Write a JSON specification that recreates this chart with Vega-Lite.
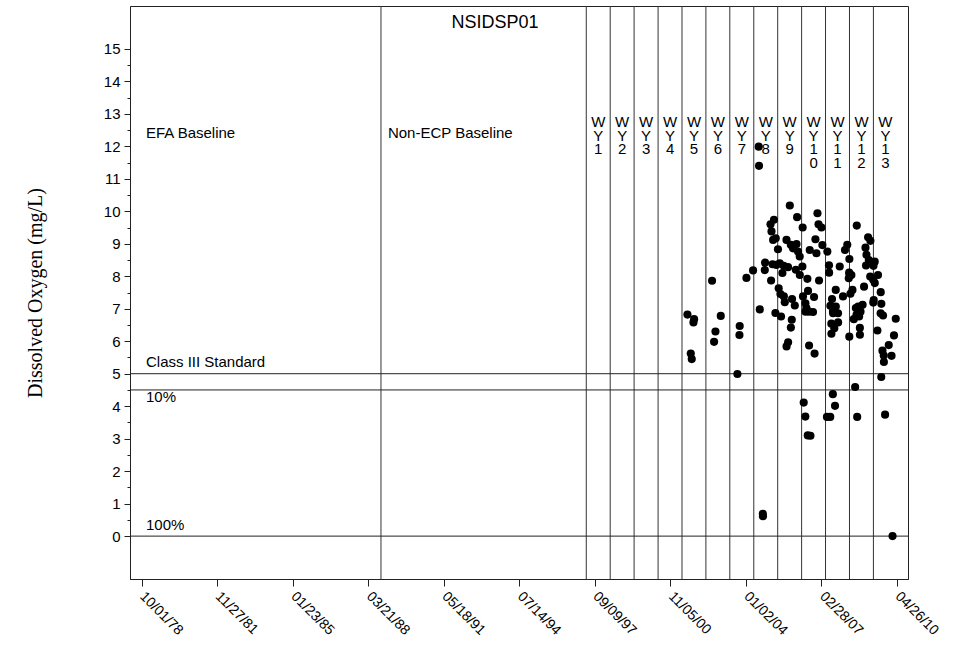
{
  "$schema": "https://vega.github.io/schema/vega-lite/v6.json",
  "width": 778,
  "height": 573,
  "autosize": {"type": "none"},
  "padding": {"left": 130, "top": 6, "right": 58, "bottom": 77},
  "background": "white",
  "config": {
    "view": {"stroke": "#222", "strokeWidth": 1},
    "font": "Liberation Sans",
    "axis": {"domainColor": "#222", "tickColor": "#222", "labelColor": "black", "titleColor": "black", "grid": false, "labelFont": "Liberation Sans"}
  },
  "datasets": {
    "periods": [
      {"date": "1988-10-01"},
      {"date": "1997-05-01"}, {"date": "1998-05-01"}, {"date": "1999-05-01"}, {"date": "2000-05-01"},
      {"date": "2001-05-01"}, {"date": "2002-05-01"}, {"date": "2003-05-01"}, {"date": "2004-05-01"},
      {"date": "2005-05-01"}, {"date": "2006-05-01"}, {"date": "2007-05-01"}, {"date": "2008-05-01"},
      {"date": "2009-05-01"}
    ],
    "levels": [{"level": 5}, {"level": 4.5}, {"level": 0}],
    "notes": [
      {"date": "1978-12-06", "value": 12.41, "label": "EFA Baseline"},
      {"date": "1989-01-15", "value": 12.41, "label": "Non-ECP Baseline"},
      {"date": "1978-12-06", "value": 5.37, "label": "Class III Standard"},
      {"date": "1978-12-06", "value": 4.29, "label": "10%"},
      {"date": "1978-12-06", "value": 0.35, "label": "100%"}
    ],
    "site": [{"date": "1993-07-06", "value": 15.8, "label": "NSIDSP01"}],
    "wateryears": [
      {"date": "1997-10-31", "label": "W\nY\n1"},
      {"date": "1998-10-31", "label": "W\nY\n2"},
      {"date": "1999-10-31", "label": "W\nY\n3"},
      {"date": "2000-10-31", "label": "W\nY\n4"},
      {"date": "2001-10-31", "label": "W\nY\n5"},
      {"date": "2002-10-31", "label": "W\nY\n6"},
      {"date": "2003-10-31", "label": "W\nY\n7"},
      {"date": "2004-10-31", "label": "W\nY\n8"},
      {"date": "2005-10-31", "label": "W\nY\n9"},
      {"date": "2006-10-31", "label": "W\nY\n1\n0"},
      {"date": "2007-10-31", "label": "W\nY\n1\n1"},
      {"date": "2008-10-31", "label": "W\nY\n1\n2"},
      {"date": "2009-10-31", "label": "W\nY\n1\n3"}
    ],
    "samples": [
      {"date": "2001-07-23", "do": 6.82}, {"date": "2001-11-02", "do": 6.68}, {"date": "2001-10-23", "do": 6.58},
      {"date": "2001-09-12", "do": 5.62}, {"date": "2001-09-27", "do": 5.45},
      {"date": "2002-08-03", "do": 7.86}, {"date": "2002-12-14", "do": 6.78}, {"date": "2002-09-24", "do": 6.30},
      {"date": "2002-09-03", "do": 5.98},
      {"date": "2003-09-29", "do": 6.47}, {"date": "2003-09-25", "do": 6.19}, {"date": "2003-08-25", "do": 4.99},
      {"date": "2004-01-10", "do": 7.95}, {"date": "2004-04-20", "do": 8.18}, {"date": "2004-08-01", "do": 6.98},
      {"date": "2004-07-15", "do": 11.99}, {"date": "2004-07-20", "do": 11.40}, {"date": "2004-09-16", "do": 0.69},
      {"date": "2004-09-18", "do": 0.61}, {"date": "2005-01-20", "do": 7.87}, {"date": "2004-10-20", "do": 8.42},
      {"date": "2004-10-16", "do": 8.19}, {"date": "2005-01-11", "do": 9.60}, {"date": "2005-03-05", "do": 9.74},
      {"date": "2005-01-26", "do": 9.38}, {"date": "2005-02-20", "do": 9.12}, {"date": "2005-04-01", "do": 9.17},
      {"date": "2005-05-05", "do": 8.83}, {"date": "2005-02-11", "do": 8.37}, {"date": "2005-03-27", "do": 6.87},
      {"date": "2005-06-21", "do": 6.76},
      {"date": "2005-11-02", "do": 10.18}, {"date": "2006-02-21", "do": 9.82}, {"date": "2005-09-12", "do": 9.12},
      {"date": "2005-11-17", "do": 8.97}, {"date": "2006-02-12", "do": 8.99}, {"date": "2005-12-21", "do": 8.86},
      {"date": "2006-03-07", "do": 8.76}, {"date": "2006-04-02", "do": 8.61}, {"date": "2005-06-01", "do": 8.40},
      {"date": "2005-04-11", "do": 8.35}, {"date": "2005-08-01", "do": 8.32}, {"date": "2005-10-06", "do": 8.28},
      {"date": "2005-07-12", "do": 8.10}, {"date": "2006-02-02", "do": 8.20}, {"date": "2006-04-04", "do": 8.04},
      {"date": "2006-05-13", "do": 8.30}, {"date": "2005-05-16", "do": 7.63}, {"date": "2005-06-12", "do": 7.45},
      {"date": "2005-08-03", "do": 7.38}, {"date": "2005-08-17", "do": 7.20}, {"date": "2005-12-06", "do": 7.30},
      {"date": "2006-01-17", "do": 7.10}, {"date": "2005-12-02", "do": 6.66}, {"date": "2005-11-18", "do": 6.42},
      {"date": "2005-10-07", "do": 5.97}, {"date": "2005-09-13", "do": 5.84},
      {"date": "2006-12-29", "do": 9.94}, {"date": "2007-01-14", "do": 9.60}, {"date": "2007-02-28", "do": 9.50},
      {"date": "2006-05-17", "do": 9.50}, {"date": "2006-11-28", "do": 9.14}, {"date": "2007-03-14", "do": 8.96},
      {"date": "2006-09-02", "do": 8.81}, {"date": "2006-12-13", "do": 8.71}, {"date": "2006-07-28", "do": 7.92},
      {"date": "2007-01-22", "do": 7.87}, {"date": "2006-08-07", "do": 7.55}, {"date": "2006-05-22", "do": 7.38},
      {"date": "2006-11-07", "do": 7.36}, {"date": "2006-06-28", "do": 7.17}, {"date": "2006-07-13", "do": 7.02},
      {"date": "2006-08-22", "do": 6.91}, {"date": "2006-10-22", "do": 6.90}, {"date": "2006-06-30", "do": 6.91},
      {"date": "2006-08-23", "do": 5.87}, {"date": "2006-11-15", "do": 5.62}, {"date": "2006-06-02", "do": 4.11},
      {"date": "2006-06-27", "do": 3.68}, {"date": "2006-08-03", "do": 3.10}, {"date": "2006-09-13", "do": 3.09},
      {"date": "2007-05-29", "do": 8.76}, {"date": "2007-06-23", "do": 8.34}, {"date": "2007-06-25", "do": 8.11},
      {"date": "2007-12-04", "do": 8.30}, {"date": "2007-10-04", "do": 7.58}, {"date": "2008-01-23", "do": 7.38},
      {"date": "2007-08-08", "do": 7.30}, {"date": "2007-07-14", "do": 7.09}, {"date": "2007-10-05", "do": 7.07},
      {"date": "2007-08-23", "do": 6.91}, {"date": "2007-11-08", "do": 6.86}, {"date": "2007-08-25", "do": 6.86},
      {"date": "2007-07-29", "do": 6.54}, {"date": "2007-11-09", "do": 6.58}, {"date": "2007-09-12", "do": 6.40},
      {"date": "2007-07-30", "do": 6.23}, {"date": "2008-04-28", "do": 6.14}, {"date": "2008-03-28", "do": 8.97},
      {"date": "2008-02-22", "do": 8.81}, {"date": "2008-04-29", "do": 8.53}, {"date": "2008-04-26", "do": 8.11},
      {"date": "2008-04-20", "do": 7.94}, {"date": "2007-08-21", "do": 4.37}, {"date": "2007-09-23", "do": 4.01},
      {"date": "2007-05-23", "do": 3.67}, {"date": "2007-07-12", "do": 3.67},
      {"date": "2008-08-20", "do": 9.56}, {"date": "2008-05-02", "do": 8.07}, {"date": "2008-05-30", "do": 8.04},
      {"date": "2008-06-15", "do": 7.58}, {"date": "2008-05-15", "do": 7.46}, {"date": "2008-12-09", "do": 7.68},
      {"date": "2009-02-09", "do": 9.20}, {"date": "2009-03-16", "do": 9.09}, {"date": "2008-12-31", "do": 8.88},
      {"date": "2009-01-15", "do": 8.66}, {"date": "2009-02-20", "do": 8.50}, {"date": "2009-01-08", "do": 8.33},
      {"date": "2008-08-06", "do": 7.02}, {"date": "2008-09-10", "do": 7.07}, {"date": "2008-11-17", "do": 7.12},
      {"date": "2008-10-16", "do": 6.91}, {"date": "2008-08-16", "do": 6.81}, {"date": "2008-07-06", "do": 6.68},
      {"date": "2008-09-25", "do": 6.76}, {"date": "2008-10-06", "do": 6.41}, {"date": "2008-10-07", "do": 6.20},
      {"date": "2008-07-26", "do": 4.59}, {"date": "2008-08-26", "do": 3.67}, {"date": "2009-03-13", "do": 7.99},
      {"date": "2009-04-28", "do": 7.89}, {"date": "2009-04-29", "do": 7.19},
      {"date": "2009-05-21", "do": 8.45}, {"date": "2009-05-02", "do": 8.32}, {"date": "2009-07-10", "do": 8.04},
      {"date": "2009-05-22", "do": 7.79}, {"date": "2009-08-21", "do": 7.51}, {"date": "2009-05-06", "do": 7.27},
      {"date": "2009-08-30", "do": 7.15}, {"date": "2009-08-19", "do": 6.86}, {"date": "2009-09-25", "do": 6.79},
      {"date": "2009-07-01", "do": 6.33}, {"date": "2010-04-07", "do": 6.69}, {"date": "2010-03-11", "do": 6.18},
      {"date": "2009-12-21", "do": 5.88}, {"date": "2009-09-16", "do": 5.71}, {"date": "2009-10-06", "do": 5.56},
      {"date": "2010-02-02", "do": 5.55}, {"date": "2009-10-08", "do": 5.36}, {"date": "2009-08-29", "do": 4.90},
      {"date": "2009-10-26", "do": 3.74}, {"date": "2010-02-17", "do": 0.00}
    ]
  },
  "layer": [
    {
      "data": {"name": "periods"},
      "mark": {"type": "rule", "color": "#333", "strokeWidth": 1},
      "encoding": {
        "x": {"field": "date", "type": "temporal",
              "scale": {"type": "utc", "domain": [{"year": 1978, "month": 4, "date": 6, "utc": true}, {"year": 2010, "month": 10, "date": 11, "utc": true}]}}
      }
    },
    {
      "data": {"name": "levels"},
      "mark": {"type": "rule", "color": "#222", "strokeWidth": 1},
      "encoding": {
        "y": {"field": "level", "type": "quantitative",
              "scale": {"domain": [-1.32, 16.32], "nice": false, "zero": false},
              "axis": {"orient": "left", "values": [0.5, 1.5, 2.5, 3.5, 4.5, 5.5, 6.5, 7.5, 8.5, 9.5, 10.5, 11.5, 12.5, 13.5, 14.5],
                       "labels": false, "domain": false, "ticks": true, "tickSize": 3, "title": null}}
      }
    },
    {
      "data": {"name": "samples"},
      "mark": {"type": "circle", "color": "black", "size": 66, "opacity": 1},
      "encoding": {
        "x": {"field": "date", "type": "temporal",
              "scale": {"type": "utc", "domain": [{"year": 1978, "month": 4, "date": 6, "utc": true}, {"year": 2010, "month": 10, "date": 11, "utc": true}]},
              "axis": {
                "title": null, "format": "%m/%d/%y", "labelAngle": 45, "labelAlign": "left", "labelBaseline": "middle",
                "labelFontSize": 14, "tickSize": 7, "labelPadding": 8, "labelOverlap": false, "labelBound": false,
                "values": [
                  {"year": 1978, "month": 10, "date": 1, "utc": true},
                  {"year": 1981, "month": 11, "date": 27, "utc": true},
                  {"year": 1985, "month": 1, "date": 23, "utc": true},
                  {"year": 1988, "month": 3, "date": 21, "utc": true},
                  {"year": 1991, "month": 5, "date": 18, "utc": true},
                  {"year": 1994, "month": 7, "date": 14, "utc": true},
                  {"year": 1997, "month": 9, "date": 9, "utc": true},
                  {"year": 2000, "month": 11, "date": 5, "utc": true},
                  {"year": 2004, "month": 1, "date": 2, "utc": true},
                  {"year": 2007, "month": 2, "date": 28, "utc": true},
                  {"year": 2010, "month": 4, "date": 26, "utc": true}
                ]
              }},
        "y": {"field": "do", "type": "quantitative",
              "scale": {"domain": [-1.32, 16.32], "nice": false, "zero": false},
              "axis": {"orient": "left", "values": [0, 1, 2, 3, 4, 5, 6, 7, 8, 9, 10, 11, 12, 13, 14, 15],
                       "tickSize": 6, "labelFontSize": 15, "labelPadding": 4,
                       "title": "Dissolved Oxygen (mg/L)", "titleFont": "Liberation Serif", "titleFontSize": 20,
                       "titleFontWeight": "normal", "titlePadding": 58}}
      }
    },
    {
      "data": {"name": "notes"},
      "mark": {"type": "text", "align": "left", "baseline": "middle", "fontSize": 15, "font": "Liberation Sans", "color": "black"},
      "encoding": {
        "x": {"field": "date", "type": "temporal",
              "scale": {"type": "utc", "domain": [{"year": 1978, "month": 4, "date": 6, "utc": true}, {"year": 2010, "month": 10, "date": 11, "utc": true}]}},
        "y": {"field": "value", "type": "quantitative", "scale": {"domain": [-1.32, 16.32], "nice": false, "zero": false}, "axis": null},
        "text": {"field": "label", "type": "nominal"}
      }
    },
    {
      "data": {"name": "site"},
      "mark": {"type": "text", "align": "center", "baseline": "middle", "fontSize": 18, "font": "Liberation Sans", "color": "black"},
      "encoding": {
        "x": {"field": "date", "type": "temporal",
              "scale": {"type": "utc", "domain": [{"year": 1978, "month": 4, "date": 6, "utc": true}, {"year": 2010, "month": 10, "date": 11, "utc": true}]}},
        "y": {"field": "value", "type": "quantitative", "scale": {"domain": [-1.32, 16.32], "nice": false, "zero": false}, "axis": null},
        "text": {"field": "label", "type": "nominal"}
      }
    },
    {
      "data": {"name": "wateryears"},
      "mark": {"type": "text", "align": "center", "baseline": "top", "fontSize": 15, "lineHeight": 13.5, "lineBreak": "\n", "font": "Liberation Sans", "color": "black", "y": 109},
      "encoding": {
        "x": {"field": "date", "type": "temporal",
              "scale": {"type": "utc", "domain": [{"year": 1978, "month": 4, "date": 6, "utc": true}, {"year": 2010, "month": 10, "date": 11, "utc": true}]}},
        "text": {"field": "label", "type": "nominal"}
      }
    }
  ],
  "resolve": {"axis": {"y": "independent"}}
}
